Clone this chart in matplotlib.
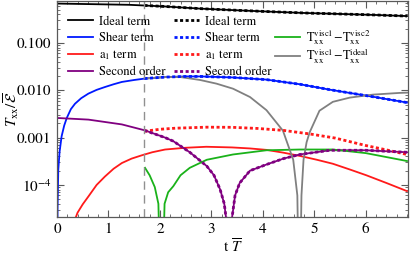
import matplotlib
matplotlib.use("Agg")
import matplotlib.pyplot as plt
from matplotlib.lines import Line2D
from matplotlib.ticker import FixedLocator, FixedFormatter, MultipleLocator, LogLocator, NullFormatter

plt.rcParams['font.family'] = ['STIXGeneral', 'DejaVu Serif']
plt.rcParams['mathtext.fontset'] = 'stix'

# ---- data (|T_xx| / E) ----
t_ideal = [0.0, 0.7, 1.4, 2.1, 2.8, 3.5, 4.1, 4.8, 5.5, 6.2, 6.8]
ideal = [0.68, 0.66, 0.64, 0.59, 0.53, 0.49, 0.46, 0.43, 0.41, 0.39, 0.37]

t_shear = [0.0, 0.01, 0.025, 0.05, 0.09, 0.14, 0.19, 0.27, 0.35, 0.47, 0.61, 0.77, 0.93,
           1.1, 1.26, 1.5, 1.71, 2.1, 2.5, 2.8, 3.4, 4.07, 4.72, 5.3, 6.14, 6.8]
shear = [1e-7, 3e-5, 2.1e-4, 5e-4, 1.07e-3, 1.8e-3, 2.6e-3, 4.0e-3, 5.2e-3, 6.8e-3, 8.5e-3,
         0.0102, 0.0117, 0.0134, 0.015, 0.0165, 0.0177, 0.019, 0.0196, 0.0196, 0.0187,
         0.0168, 0.0134, 0.0103, 0.0073, 0.0055]

t_a1 = [0.33, 0.36, 0.4, 0.5, 0.61, 0.77, 0.93, 1.1, 1.26, 1.45, 1.64, 1.85, 2.1, 2.5, 2.9,
        3.4, 3.75, 4.07, 4.4, 4.72, 5.05, 5.36, 5.7, 6.01, 6.4, 6.8]
a1 = [1e-7, 2e-5, 2.6e-5, 3.9e-5, 5.7e-5, 1.0e-4, 1.5e-4, 2.2e-4, 2.9e-4, 3.6e-4, 4.2e-4,
      4.9e-4, 5.6e-4, 6.1e-4, 6.4e-4, 6.2e-4, 5.9e-4, 5.5e-4, 4.8e-4, 4.1e-4, 3.4e-4,
      2.8e-4, 2.1e-4, 1.6e-4, 1.1e-4, 7.4e-5]

t_second = [0.0, 0.61, 1.26, 1.71, 2.1, 2.26, 2.58, 2.91, 3.05, 3.17, 3.25, 3.3, 3.35,
            3.4, 3.46, 3.55, 3.75, 4.07, 4.4, 4.72, 5.3, 6.0, 6.8]
second = [2.6e-3, 2.4e-3, 1.9e-3, 1.42e-3, 1.0e-3, 8.4e-4, 4.9e-4, 2.5e-4, 1.6e-4, 8e-5,
          4e-5, 1.5e-5, 1e-7, 2e-5, 6e-5, 1.1e-4, 2.0e-4, 2.7e-4, 3.6e-4, 4.4e-4, 5.4e-4,
          5.4e-4, 4.9e-4]

# second calculation, starting at t = 1.7
t_ideal2 = [1.7, 2.1, 2.8, 3.5, 4.1, 4.8, 5.5, 6.2, 6.8]
ideal2 = [0.62, 0.59, 0.53, 0.49, 0.46, 0.43, 0.41, 0.39, 0.37]

t_shear2 = [1.7, 2.1, 2.5, 2.8, 3.4, 4.07, 4.72, 5.3, 6.14, 6.8]
shear2 = [0.0177, 0.019, 0.0196, 0.0196, 0.0187, 0.0168, 0.0134, 0.0103, 0.0073, 0.0055]

t_a1_2 = [1.7, 2.0, 2.3, 2.9, 3.4, 3.9, 4.4, 4.9, 5.4, 6.0, 6.4, 6.8]
a1_2 = [1.36e-3, 1.5e-3, 1.58e-3, 1.66e-3, 1.65e-3, 1.56e-3, 1.42e-3, 1.2e-3, 9.8e-4,
        6.8e-4, 5.5e-4, 4.4e-4]

t_second2 = [1.7, 2.1, 2.26, 2.58, 2.91, 3.05, 3.17, 3.25, 3.3, 3.35, 3.4, 3.46, 3.55,
             3.75, 4.07, 4.4, 4.72, 5.3, 6.0, 6.8]
second2 = [1.42e-3, 1.0e-3, 8.4e-4, 4.9e-4, 2.5e-4, 1.6e-4, 8e-5, 4e-5, 1.5e-5, 1e-7,
           2e-5, 6e-5, 1.1e-4, 2.0e-4, 2.7e-4, 3.6e-4, 4.4e-4, 5.4e-4, 5.4e-4, 4.9e-4]

t_v12 = [1.71, 1.8, 1.9, 1.97, 2.03, 2.09, 2.16, 2.26, 2.4, 2.58, 2.91, 3.42, 4.07, 4.72,
         5.36, 6.0, 6.8]
v12 = [2.3e-4, 1.6e-4, 9e-5, 4e-5, 1e-7, 4e-5, 7e-5, 9.4e-5, 1.6e-4, 2.3e-4, 3.4e-4,
       4.4e-4, 5.4e-4, 5.6e-4, 5.6e-4, 4.7e-4, 3.2e-4]

t_v1i = [1.7, 2.1, 2.4, 2.78, 3.1, 3.42, 3.75, 4.07, 4.39, 4.59, 4.67, 4.71, 4.75, 4.79,
         4.85, 4.91, 5.1, 5.36, 5.69, 6.14, 6.66, 6.8]
v1i = [0.0177, 0.019, 0.019, 0.0165, 0.0138, 0.0108, 0.0072, 0.0038, 0.0014, 3.4e-4, 6e-5,
       1e-7, 6e-5, 3.4e-4, 8e-4, 1.3e-3, 3.7e-3, 5.7e-3, 7e-3, 8.1e-3, 8.8e-3, 8.9e-3]

t_start = 1.7

fig = plt.figure(figsize=(4.11, 2.58), dpi=100)
ax = fig.add_axes([57 / 411, 41 / 258, 351 / 411, 216 / 258])

lw = 1.3
dots = (0, (1.1, 0.9))
ax.plot(t_ideal, ideal, color='black', lw=lw)
ax.plot(t_shear, shear, color='#0019ff', lw=lw)
ax.plot(t_a1, a1, color='#ff1a1a', lw=lw)
ax.plot(t_second, second, color='#800080', lw=lw)
ax.plot(t_v12, v12, color='#1ab21a', lw=lw)
ax.plot(t_v1i, v1i, color='#808080', lw=lw)
ax.plot(t_ideal2, ideal2, color='black', lw=2.0, ls=dots)
ax.plot(t_shear2, shear2, color='#0019ff', lw=2.0, ls=dots)
ax.plot(t_a1_2, a1_2, color='#ff1a1a', lw=2.0, ls=dots)
ax.plot(t_second2, second2, color='#800080', lw=2.0, ls=dots)
ax.axvline(t_start, color='#909090', lw=1.0, ls=(0, (6, 4)))

ax.set_yscale('log')
ax.set_xlim(0, 6.82)
ax.set_ylim(2.1e-5, 0.77)

ax.yaxis.set_major_locator(FixedLocator([1e-4, 1e-3, 1e-2, 1e-1]))
ax.yaxis.set_major_formatter(FixedFormatter([r'$10^{-4}$', '0.001', '0.010', '0.100']))
ax.yaxis.set_minor_locator(LogLocator(base=10, subs=range(2, 10), numticks=20))
ax.yaxis.set_minor_formatter(NullFormatter())
ax.xaxis.set_major_locator(MultipleLocator(1))
ax.xaxis.set_minor_locator(MultipleLocator(0.2))

ax.tick_params(which='both', direction='in', top=True, right=True, labelsize=11,
               color='0.35', pad=4)
ax.tick_params(which='major', length=5, width=0.8)
ax.tick_params(which='minor', length=2.5, width=0.6)
for s in ax.spines.values():
    s.set_color('0.35')
    s.set_linewidth(0.9)

ax.set_xlabel(r't $\overline{T}$', fontsize=11, labelpad=1)
ax.set_ylabel(r'$T_{\rm xx}/\overline{\mathcal{E}}$', fontsize=11)
ax.yaxis.set_label_coords(-0.103, 0.5)

names = ['Ideal term', 'Shear term', 'a$_1$ term', 'Second order']
cols = ['black', '#0019ff', '#ff1a1a', '#800080']
h1 = [Line2D([], [], color=c, lw=lw) for c in cols]
h2 = [Line2D([], [], color=c, lw=2.0, ls=dots) for c in cols]
h3 = [Line2D([], [], color='#1ab21a', lw=lw), Line2D([], [], color='#808080', lw=lw)]
n3 = [r'$\mathrm{T}_{\mathrm{xx}}^{\mathrm{visc1}}\!-\!\mathrm{T}_{\mathrm{xx}}^{\mathrm{visc2}}$',
      r'$\mathrm{T}_{\mathrm{xx}}^{\mathrm{visc1}}\!-\!\mathrm{T}_{\mathrm{xx}}^{\mathrm{ideal}}$']

kw = dict(frameon=False, fontsize=9, handlelength=2.0, handletextpad=0.5,
          labelspacing=0.35, borderpad=0, borderaxespad=0, loc='upper left')
leg1 = ax.legend(h1, names, bbox_to_anchor=(11 / 351, 1 - 15 / 216), **kw)
ax.add_artist(leg1)
leg2 = ax.legend(h2, names, bbox_to_anchor=(117 / 351, 1 - 15 / 216), **kw)
ax.add_artist(leg2)
kw3 = dict(kw)
kw3['labelspacing'] = 0.0
ax.legend(h3, n3, bbox_to_anchor=(218 / 351, 1 - 27 / 216), **kw3)

fig.savefig('out.png', dpi=100)
